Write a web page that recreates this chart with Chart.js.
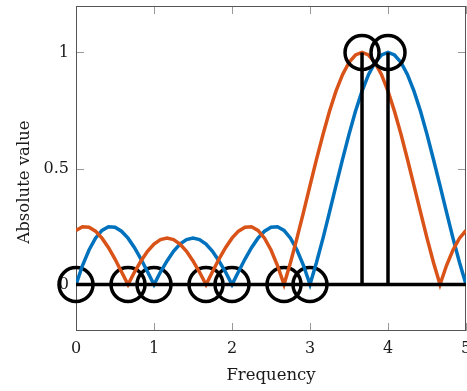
<!DOCTYPE html>
<html>
<head>
<meta charset="utf-8">
<script src="https://cdn.jsdelivr.net/npm/chart.js@4/dist/chart.umd.min.js"></script>
<style>
  body { margin: 0; background: #fff; }
  canvas { display: block; }
</style>
</head>
<body>
<canvas id="specChart" width="467" height="391"></canvas>
<script>
// frequency grid
const freq = [0, 0.083, 0.167, 0.25, 0.333, 0.417, 0.5, 0.583, 0.667, 0.75, 0.833, 0.917,
  1, 1.083, 1.167, 1.25, 1.333, 1.417, 1.5, 1.583, 1.667, 1.75, 1.833, 1.917,
  2, 2.083, 2.167, 2.25, 2.333, 2.417, 2.5, 2.583, 2.667, 2.75, 2.833, 2.917,
  3, 3.083, 3.167, 3.25, 3.333, 3.417, 3.5, 3.583, 3.667, 3.75, 3.833, 3.917,
  4, 4.083, 4.167, 4.25, 4.333, 4.417, 4.5, 4.583, 4.667, 4.75, 4.833, 4.917, 5];

// blue curve, peak at 4
const blueMag = [0, 0.082, 0.149, 0.2, 0.233, 0.249, 0.247, 0.23, 0.2, 0.159, 0.11, 0.055,
  0, 0.054, 0.102, 0.143, 0.174, 0.194, 0.2, 0.194, 0.174, 0.143, 0.102, 0.054,
  0, 0.055, 0.11, 0.159, 0.2, 0.23, 0.247, 0.249, 0.233, 0.2, 0.149, 0.082,
  0, 0.095, 0.2, 0.312, 0.426, 0.539, 0.647, 0.747, 0.833, 0.904, 0.957, 0.989,
  1, 0.989, 0.957, 0.904, 0.833, 0.747, 0.647, 0.539, 0.426, 0.312, 0.2, 0.095, 0];

// orange curve, peak at 3.667
const orangeMag = [0.233, 0.249, 0.247, 0.23, 0.2, 0.159, 0.11, 0.055, 0,
  0.054, 0.102, 0.143, 0.174, 0.194, 0.2, 0.194, 0.174, 0.143, 0.102, 0.054, 0,
  0.055, 0.11, 0.159, 0.2, 0.23, 0.247, 0.249, 0.233, 0.2, 0.149, 0.082, 0,
  0.095, 0.2, 0.312, 0.426, 0.539, 0.647, 0.747, 0.833, 0.904, 0.957, 0.989, 1,
  0.989, 0.957, 0.904, 0.833, 0.747, 0.647, 0.539, 0.426, 0.312, 0.2, 0.095, 0,
  0.082, 0.149, 0.2, 0.233];

// stems (DFT samples)
const stemFreq = [3.667, 4];
const stemMag = [1, 1];
const zeroFreq = [0, 0.667, 1, 1.667, 2, 2.667, 3];
const baseRange = [0, 5];

const xTicks = [0, 1, 2, 3, 4, 5];
const yTicks = [0, 0.5, 1];
const xTitle = 'Frequency';
const yTitle = 'Absolute value';

const FAMILY = "'DejaVu Serif', serif";
const FONT = { family: FAMILY, size: 16 };
const LW = 3.5;

const stemPts = [];
stemFreq.forEach((f, i) => {
  if (i > 0) stemPts.push({ x: f, y: null });
  stemPts.push({ x: f, y: 0 }, { x: f, y: stemMag[i] });
});

// box + inward ticks like pgfplots, plus the y label
const frame = {
  id: 'frame',
  beforeDatasetsDraw(chart) {
    const { ctx, chartArea: a, scales: { x, y } } = chart;
    ctx.save();
    ctx.lineWidth = 1;
    ctx.strokeStyle = '#999';
    ctx.beginPath();
    xTicks.forEach(v => {
      const px = Math.round(x.getPixelForValue(v)) + 0.5;
      ctx.moveTo(px, a.bottom); ctx.lineTo(px, a.bottom - 8);
      ctx.moveTo(px, a.top); ctx.lineTo(px, a.top + 8);
    });
    yTicks.forEach(v => {
      const py = Math.round(y.getPixelForValue(v)) + 0.5;
      ctx.moveTo(a.left, py); ctx.lineTo(a.left + 8, py);
      ctx.moveTo(a.right, py); ctx.lineTo(a.right - 8, py);
    });
    ctx.stroke();
    ctx.strokeStyle = '#555';
    ctx.strokeRect(a.left + 0.5, a.top + 0.5, a.right - a.left - 1, a.bottom - a.top - 1);
    ctx.restore();
  },
  afterDraw(chart) {
    const { ctx } = chart;
    ctx.save();
    ctx.translate(25, 182);
    ctx.rotate(-Math.PI / 2);
    ctx.font = '16.5px ' + FAMILY;
    ctx.fillStyle = '#1a1a1a';
    ctx.textAlign = 'center';
    ctx.textBaseline = 'middle';
    ctx.fillText(yTitle, 0, 0);
    ctx.restore();
  }
};

new Chart(document.getElementById('specChart'), {
  type: 'line',
  data: {
    datasets: [
      {
        data: stemPts,
        borderColor: '#000',
        borderWidth: LW,
        spanGaps: false,
        pointRadius: c => (c.raw && c.raw.y === 1 ? 17 : 0),
        pointBorderWidth: LW,
        pointBorderColor: '#000',
        pointBackgroundColor: 'rgba(0,0,0,0)',
        clip: false,
        order: 0
      },
      {
        data: baseRange.map(f => ({ x: f, y: 0 })),
        borderColor: '#000',
        borderWidth: LW,
        pointRadius: 0,
        order: 1
      },
      {
        data: freq.map((f, i) => ({ x: f, y: orangeMag[i] })),
        borderColor: '#D95319',
        borderWidth: LW,
        pointRadius: 0,
        tension: 0,
        order: 2
      },
      {
        data: freq.map((f, i) => ({ x: f, y: blueMag[i] })),
        borderColor: '#0072BD',
        borderWidth: LW,
        pointRadius: 0,
        tension: 0,
        order: 3
      },
      {
        data: zeroFreq.map(f => ({ x: f, y: 0 })),
        showLine: false,
        pointRadius: 17,
        pointBorderWidth: LW,
        pointBorderColor: '#000',
        pointBackgroundColor: 'rgba(0,0,0,0)',
        clip: false,
        order: 4
      }
    ]
  },
  options: {
    responsive: false,
    animation: false,
    layout: { autoPadding: false, padding: { top: 6, right: 1, left: 0, bottom: 0 } },
    plugins: { legend: { display: false }, tooltip: { enabled: false } },
    scales: {
      x: {
        type: 'linear',
        min: 0,
        max: 5,
        afterBuildTicks: s => { s.ticks = xTicks.map(v => ({ value: v })); },
        afterFit: s => { s.height = 60; s.paddingLeft = 0; s.paddingRight = 0; },
        grid: { display: false, drawTicks: false },
        border: { display: false },
        ticks: { color: '#1a1a1a', font: FONT, padding: 8, maxRotation: 0 },
        title: { display: true, text: xTitle, color: '#1a1a1a', font: { family: FAMILY, size: 16.5 }, padding: { top: 0, bottom: 5 } }
      },
      y: {
        min: -0.2,
        max: 1.2,
        afterBuildTicks: s => { s.ticks = yTicks.map(v => ({ value: v })); },
        afterFit: s => { s.width = 76; s.paddingTop = 0; s.paddingBottom = 0; },
        grid: { display: false, drawTicks: false },
        border: { display: false },
        ticks: { color: '#1a1a1a', font: FONT, padding: 7, callback: v => String(v) }
      }
    }
  },
  plugins: [frame]
});
</script>
</body>
</html>
